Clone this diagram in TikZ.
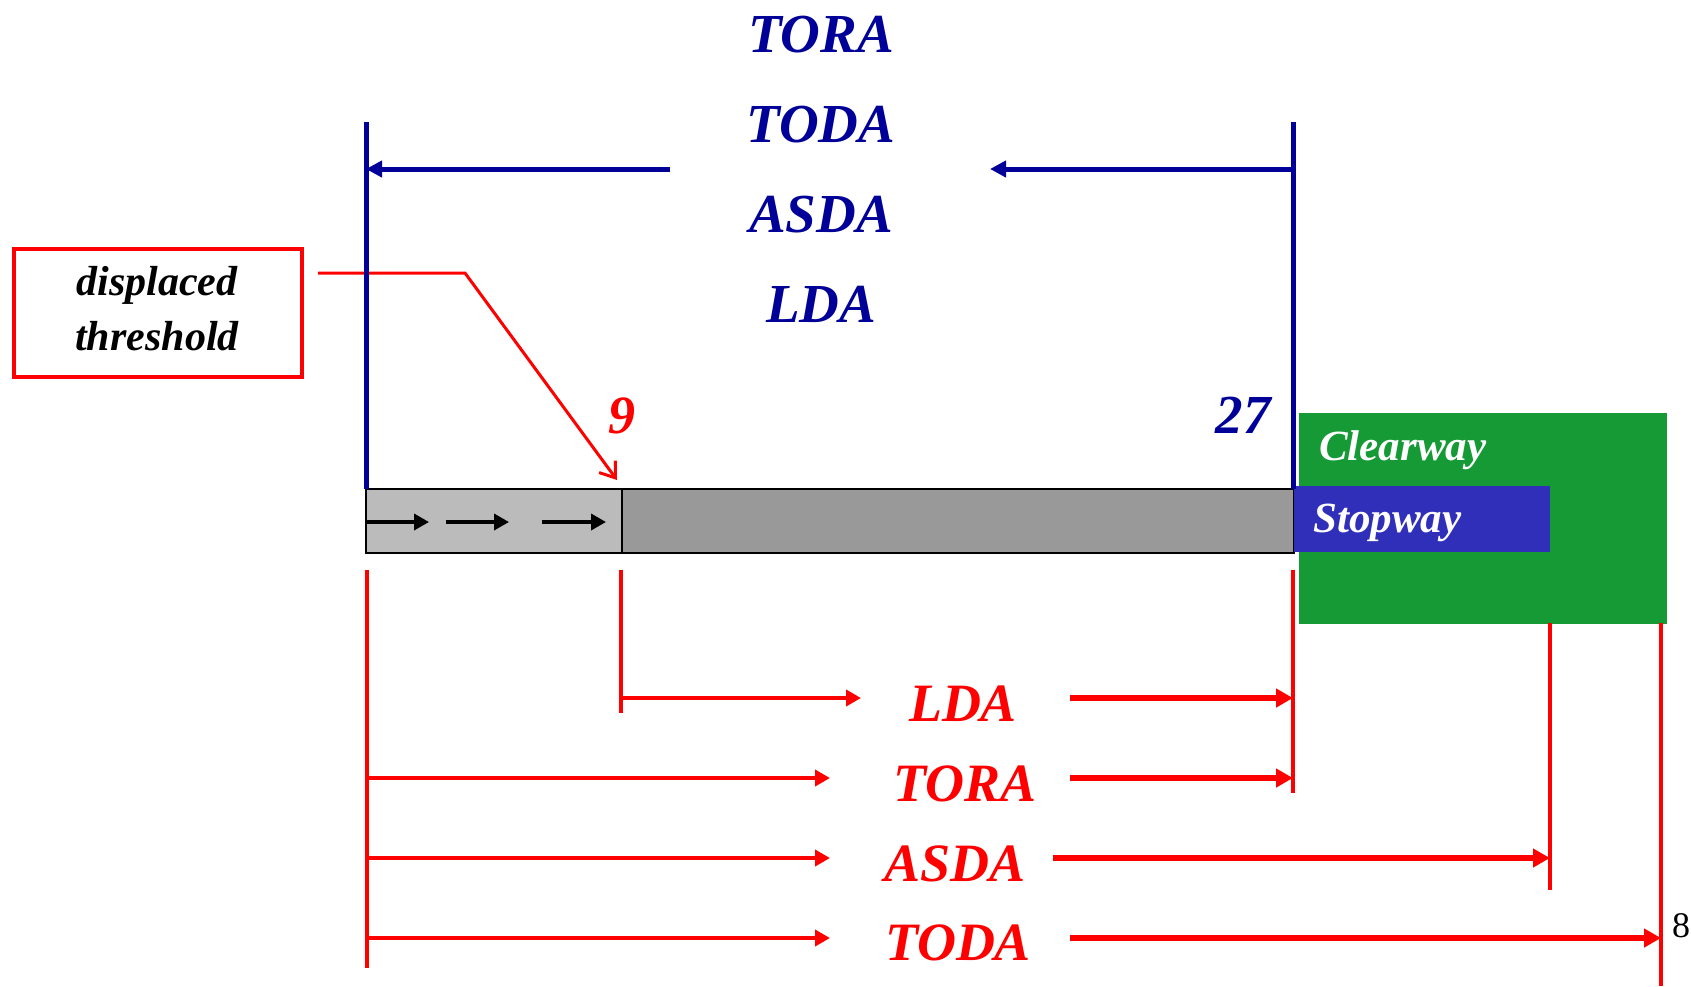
\documentclass[tikz,border=0pt]{standalone}
\usepackage{fontspec}
\setmainfont{Liberation Serif}
\usetikzlibrary{arrows.meta}
\definecolor{navy}{RGB}{0,0,153}
\definecolor{cwgreen}{RGB}{22,154,54}
\definecolor{swblue}{RGB}{47,47,186}
\definecolor{rwlight}{RGB}{187,187,187}
\definecolor{rwdark}{RGB}{153,153,153}
\begin{document}
\begin{tikzpicture}[x=1pt,y=-1pt,
  bluelbl/.style={text=navy,inner sep=0pt,anchor=base,font=\fontsize{55}{60}\selectfont\bfseries\itshape},
  redlbl/.style={text=red,inner sep=0pt,anchor=base,font=\fontsize{54}{60}\selectfont\bfseries\itshape},
  whitelbl/.style={text=white,inner sep=0pt,anchor=base west,font=\fontsize{43}{50}\selectfont\bfseries\itshape},
  dtlbl/.style={text=black,inner sep=0pt,anchor=base,font=\fontsize{42}{46}\selectfont\bfseries\itshape},
  blueline/.style={draw=navy,line width=5pt},
  bluearrow/.style={draw=navy,line width=5pt,-{Triangle[length=16pt,width=16pt]}},
  redline/.style={draw=red,line width=4.5pt},
  redarrowA/.style={draw=red,line width=4.5pt,-{Triangle[length=15pt,width=16pt]}},
  redarrowB/.style={draw=red,line width=6pt,-{Triangle[length=17pt,width=18pt]}},
  rwarrow/.style={draw=black,line width=3.5pt,-{Triangle[length=15pt,width=16pt]}},
  leader/.style={draw=red,line width=3pt,-{Straight Barb[length=14pt,width=20pt,line width=3pt]}},
  dtbox/.style={draw=red,line width=3.5pt,minimum width=288pt,minimum height=128pt,inner sep=0pt}
]
\useasboundingbox (0,0) rectangle (1691,986);

% clearway and runway
\fill[cwgreen] (1299,413) rectangle (1667,624);
\fill[rwlight] (366,489) rectangle (622,553);
\fill[rwdark] (622,489) rectangle (1294,553);
\draw[line width=2.5pt] (366,489) rectangle (1294,553);
\draw[line width=2.5pt] (622,489) -- (622,553);
\fill[swblue] (1294,486) rectangle (1550,552);
\node[whitelbl] (cw) at (1319,460) {Clearway};
\node[whitelbl] (sw) at (1313,532) {Stopway};

% runway arrows
\coordinate (ra1) at (366,522); \coordinate (ra1e) at (429,522);
\coordinate (ra2) at (446,522); \coordinate (ra2e) at (509,522);
\coordinate (ra3) at (542,522); \coordinate (ra3e) at (606,522);
\draw[rwarrow] (ra1) -- (ra1e);
\draw[rwarrow] (ra2) -- (ra2e);
\draw[rwarrow] (ra3) -- (ra3e);

% displaced threshold box and leader
\node[dtbox] (dt) at (158,313) {};
\node[dtlbl] (dt1) at (157,295) {displaced};
\node[dtlbl] (dt2) at (157,350) {threshold};
\coordinate (ld0) at (318,273);
\coordinate (ld1) at (465,273);
\coordinate (thr) at (617,480);
\draw[leader] (ld0) -- (ld1) -- (thr);

% blue dimension
\coordinate (blt) at (366,122); \coordinate (blb) at (366,489);
\coordinate (brt) at (1293,122); \coordinate (brb) at (1293,489);
\draw[blueline] (blt) -- (blb);
\draw[blueline] (brt) -- (brb);
\coordinate (bal) at (670,169); \coordinate (balt) at (366,169);
\coordinate (bar) at (1293,169); \coordinate (bart) at (990,169);
\draw[bluearrow] (bal) -- (balt);
\draw[bluearrow] (bar) -- (bart);
\node[bluelbl] (b1) at (821,52) {TORA};
\node[bluelbl] (b2) at (821,142) {TODA};
\node[bluelbl] (b3) at (821,232) {ASDA};
\node[bluelbl] (b4) at (821,322) {LDA};
\node[redlbl] (n9) at (622,433) {9};
\node[bluelbl] (n27) at (1243,433) {27};

% red dimension lines
\coordinate (v1t) at (367,570); \coordinate (v1b) at (367,968);
\coordinate (v2t) at (621,570); \coordinate (v2b) at (621,713);
\coordinate (v3t) at (1293,570); \coordinate (v3b) at (1293,793);
\coordinate (v4t) at (1550,623); \coordinate (v4b) at (1550,890);
\coordinate (v5t) at (1661,623); \coordinate (v5b) at (1661,986);
\draw[redline] (v1t) -- (v1b);
\draw[redline] (v2t) -- (v2b);
\draw[redline] (v3t) -- (v3b);
\draw[redline] (v4t) -- (v4b);
\draw[redline] (v5t) -- (v5b);

\node[redlbl] (rl) at (963,721) {LDA};
\node[redlbl] (rt) at (965,801) {TORA};
\node[redlbl] (ra) at (955,881) {ASDA};
\node[redlbl] (rd) at (958,960) {TODA};

\draw[redarrowA] (v2t |- 0,698) -- (861,698);
\draw[redarrowB] (1070,698) -- (v3t |- 0,698);
\draw[redarrowA] (v1t |- 0,778) -- (830,778);
\draw[redarrowB] (1070,778) -- (v3t |- 0,778);
\draw[redarrowA] (v1t |- 0,858) -- (830,858);
\draw[redarrowB] (1053,858) -- (v4t |- 0,858);
\draw[redarrowA] (v1t |- 0,938) -- (830,938);
\draw[redarrowB] (1070,938) -- (v5t |- 0,938);

\node[inner sep=0pt,anchor=base,font=\fontsize{36}{40}\selectfont] (pg) at (1681,937) {8};
\end{tikzpicture}
\end{document}
